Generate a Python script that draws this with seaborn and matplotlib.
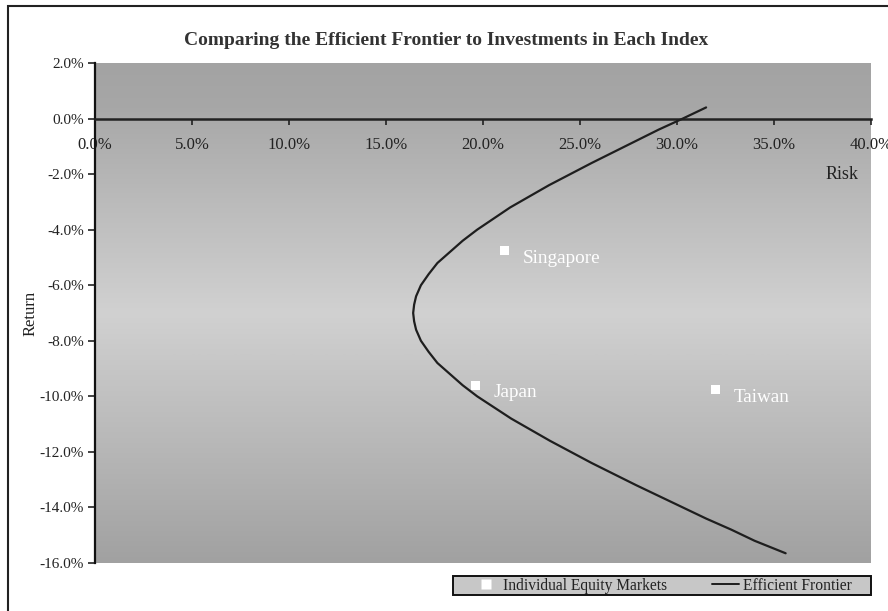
import numpy as np
import pandas as pd
import matplotlib
matplotlib.use("Agg")
import matplotlib.pyplot as plt
from matplotlib.colors import LinearSegmentedColormap
from matplotlib.lines import Line2D
from matplotlib.patches import Rectangle
import seaborn as sns

# Efficient frontier (risk %, return %)
frontier_return = [0.4, 0.0, -0.4, -0.8, -1.6, -2.4, -3.2, -4.0, -4.4, -4.8, -5.2,
                   -5.6, -6.0, -6.4, -6.7, -7.0, -7.3, -7.6, -8.0, -8.4, -8.8, -9.2,
                   -9.6, -10.0, -10.8, -11.6, -12.4, -13.2, -14.0, -14.4, -14.8,
                   -15.2, -15.65]
frontier_risk = [31.5, 30.3, 29.05, 27.9, 25.6, 23.4, 21.4, 19.7, 18.95, 18.3, 17.65,
                 17.2, 16.8, 16.55, 16.45, 16.4, 16.45, 16.55, 16.8, 17.2, 17.65, 18.3,
                 18.95, 19.7, 21.45, 23.45, 25.6, 27.9, 30.3, 31.5, 32.8,
                 34.0, 35.6]

# Individual equity markets
markets = ["Singapore", "Japan", "Taiwan"]
market_risk = [21.1, 19.6, 32.0]
market_return = [-4.75, -9.6, -9.75]

x_ticks = [0, 5, 10, 15, 20, 25, 30, 35, 40]
y_ticks = [2, 0, -2, -4, -6, -8, -10, -12, -14, -16]

sns.set_theme(style="white")
plt.rcParams["font.family"] = ["Liberation Serif", "DejaVu Serif"]

W, H = 888, 611
fig = plt.figure(figsize=(W / 100, H / 100), dpi=100)
fig.patch.set_facecolor("white")
ax = fig.add_axes([95 / W, 1 - 563 / H, (871 - 95) / W, (563 - 63) / H])

# vertical grey gradient behind the plot area
grad_cmap = LinearSegmentedColormap.from_list(
    "plotbg",
    [(0.0, "#a3a3a3"), (0.09, "#a7a7a7"), (0.11, "#aaaaaa"),
     (0.5, "#d1d1d1"), (1.0, "#a1a1a1")])
grad = np.linspace(0, 1, 256).reshape(-1, 1)
ax.imshow(grad, cmap=grad_cmap, aspect="auto", extent=[0, 40, -16, 2],
          origin="upper", zorder=0, interpolation="bicubic")

frontier = pd.DataFrame({"Risk": frontier_risk, "Return": frontier_return})
sns.lineplot(data=frontier, x="Risk", y="Return", sort=False, estimator=None,
             errorbar=None, ax=ax, color="#1e1e1e", linewidth=1.6, zorder=3,
             legend=False)

pts = pd.DataFrame({"Market": markets, "Risk": market_risk, "Return": market_return})
sns.scatterplot(data=pts, x="Risk", y="Return", ax=ax, marker="s", s=45,
                color="white", edgecolor="none", zorder=4, legend=False)
for name, xr, yr in zip(markets, market_risk, market_return):
    ax.annotate(name, (xr, yr), xytext=(13, -5.5), textcoords="offset points",
                color="white", fontsize=13.8, va="center", ha="left", zorder=5)

ax.set_xlim(0, 40)
ax.set_ylim(-16, 2)
ax.set_xticks(x_ticks)
ax.set_yticks(y_ticks)
ax.set_xticklabels([f"{v:.1f}%" for v in x_ticks])
ax.set_yticklabels([f"{v:.1f}%" for v in y_ticks])

for side in ["top", "right"]:
    ax.spines[side].set_visible(False)
ax.spines["bottom"].set_position(("data", 0))
ax.spines["bottom"].set_linewidth(1.8)
ax.spines["bottom"].set_color("#222222")
ax.spines["left"].set_linewidth(1.6)
ax.spines["left"].set_color("#111111")
ax.tick_params(axis="x", direction="out", length=4, width=1.2, pad=9,
               labelsize=12, colors="#222222", bottom=True)
ax.tick_params(axis="y", direction="out", length=5, width=1.2, pad=3,
               labelsize=11, colors="#222222", left=True)

ax.set_xlabel("")
ax.set_ylabel("Return", fontsize=12, color="#222222", labelpad=1)
ax.text(38.5, -2.0, "Risk", fontsize=13, color="#222222", ha="center", va="center")

fig.text(0.502, 0.933, "Comparing the Efficient Frontier to Investments in Each Index",
         ha="center", va="center", fontsize=14, fontweight="bold", color="#333333")

# frame around the chart area
fig.patches.append(Rectangle((8 / W, -0.01), 1.0, 1 - 6 / H + 0.01,
                             transform=fig.transFigure, fill=False,
                             edgecolor="#222222", linewidth=1.5))

# legend: grey box with the two entries centred inside
box_x0, box_x1, box_y0, box_y1 = 453, 871, 576, 595
fig.patches.append(Rectangle((box_x0 / W, 1 - box_y1 / H), (box_x1 - box_x0) / W,
                             (box_y1 - box_y0) / H, transform=fig.transFigure,
                             facecolor="#c7c7c7", edgecolor="#111111",
                             linewidth=1.4, zorder=1))
handles = [Line2D([], [], marker="s", linestyle="none", markersize=7,
                  markerfacecolor="white", markeredgecolor="none"),
           Line2D([], [], color="#1e1e1e", linewidth=1.4)]
leg = fig.legend(handles, ["Individual Equity Markets", "Efficient Frontier"],
                 loc="center",
                 bbox_to_anchor=((box_x0 + box_x1) / 2 / W,
                                 1 - (box_y0 + box_y1) / 2 / H),
                 ncol=2, frameon=False, fontsize=11.2, handlelength=1.75,
                 columnspacing=2.9, handletextpad=0.22, borderpad=0.0)
for t in leg.get_texts():
    t.set_color("#222222")

fig.savefig("out.png", dpi=100, facecolor="white")
